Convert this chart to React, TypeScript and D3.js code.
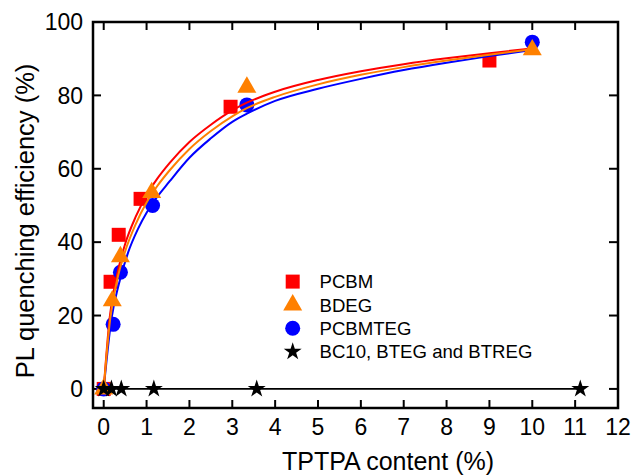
import React from "react";
import * as d3 from "d3";

// ---------- data ----------
const pcbmX = [0, 0.16, 0.35, 0.86, 2.96, 9.0];
const pcbmY = [0, 29.2, 42, 51.8, 76.9, 89.5];

const bdegX = [0, 0.2, 0.39, 1.12, 3.34, 10.0];
const bdegY = [0, 24, 36, 53.5, 82.2, 92.4];

const tegX = [0, 0.22, 0.39, 1.14, 3.34, 10.0];
const tegY = [0, 17.6, 31.8, 50, 77.4, 94.5];

const starX = [0, 0.18, 0.41, 1.17, 3.57, 11.12];
const starY = [0, 0, 0, 0, 0, 0];

// fitted curves
const fitRedX = [0, 0.14, 0.3, 0.5, 0.75, 1.0, 1.25, 1.54, 2.0, 2.5, 3.0, 3.34, 4.0, 5.0, 6.0, 7.0, 8.0, 9.0, 10.0];
const fitRedY = [0, 19.5, 30.5, 39.5, 47, 52.8, 57.3, 61.6, 67.3, 72, 75.9, 78, 81, 84.2, 86.6, 88.5, 90.1, 91.5, 92.8];

const fitOrangeX = [0, 0.15, 0.3, 0.5, 0.75, 1.0, 1.25, 1.54, 2.0, 2.5, 3.0, 3.34, 4.0, 5.0, 6.0, 7.0, 8.0, 9.0, 10.0];
const fitOrangeY = [0, 19, 29, 37.5, 45, 50.8, 55.3, 59.6, 65.4, 70.3, 74.3, 76.5, 79.6, 83.0, 85.6, 87.7, 89.5, 91.1, 92.6];

const fitBlueX = [0, 0.18, 0.34, 0.57, 0.8, 1.0, 1.14, 1.54, 2.0, 2.5, 3.0, 3.34, 4.0, 5.0, 6.0, 7.0, 8.0, 9.0, 10.0];
const fitBlueY = [0, 19, 28, 37.2, 43.6, 48, 50.6, 56.6, 63, 68.3, 72.8, 75, 78.5, 81.8, 84.5, 86.9, 88.9, 90.7, 92.4];

const xTicks = [0, 1, 2, 3, 4, 5, 6, 7, 8, 9, 10, 11, 12];
const yTicks = [0, 20, 40, 60, 80, 100];

const legendLabels = ["PCBM", "BDEG", "PCBMTEG", "BC10, BTEG and BTREG"];

const RED = "#ff0000";
const ORANGE = "#ff8000";
const BLUE = "#0000ff";
const FONT = "'Liberation Sans', Arial, sans-serif";

const W = 632;
const H = 475;
const L = 93, R = 618, T = 22, B = 408;

export default function App() {
  const x = d3.scaleLinear().domain([-0.25, 12]).range([L, R]);
  const y = d3.scaleLinear().domain([-5.2, 100]).range([B, T]);

  const zip = (xs: number[], ys: number[]) => xs.map((v, i) => [v, ys[i]] as [number, number]);
  const line = d3
    .line<[number, number]>()
    .x((d) => x(d[0]))
    .y((d) => y(d[1]))
    .curve(d3.curveMonotoneX);
  const straight = d3
    .line<[number, number]>()
    .x((d) => x(d[0]))
    .y((d) => y(d[1]));

  const sq = d3.symbol().type(d3.symbolSquare).size(196)()!;
  const tri = d3.symbol().type(d3.symbolTriangle).size(156)()!;
  const circ = d3.symbol().type(d3.symbolCircle).size(177)()!;
  const star = d3.symbol().type(d3.symbolStar).size(100)()!;

  const legendX = 292.7;
  const legendTextX = 319.5;
  const legendBase = [288.3, 311.7, 335, 358.3];
  const legendSymbols = [
    { d: sq, fill: RED, dy: -6.7 },
    { d: tri, fill: ORANGE, dy: -6.7 },
    { d: circ, fill: BLUE, dy: -6.7 },
    { d: star, fill: "#000", dy: -6.7 },
  ];

  return (
    <svg
      width={W}
      height={H}
      style={{ position: "absolute", left: 0, top: 0, background: "#fff" }}
      fontFamily={FONT}
    >
      <rect x={0} y={0} width={W} height={H} fill="#fff" />

      {/* ticks */}
      {xTicks.map((t) => (
        <g key={"xt" + t} stroke="#000" strokeWidth={2}>
          <line x1={x(t)} x2={x(t)} y1={B} y2={B - 8} />
          <line x1={x(t)} x2={x(t)} y1={T} y2={T + 8} />
        </g>
      ))}
      {yTicks.map((t) => (
        <g key={"yt" + t} stroke="#000" strokeWidth={2}>
          <line x1={L} x2={L + 8} y1={y(t)} y2={y(t)} />
          <line x1={R} x2={R - 9} y1={y(t)} y2={y(t)} />
        </g>
      ))}

      {/* tick labels */}
      {xTicks.map((t) => (
        <text key={"xl" + t} x={x(t)} y={435} fontSize={23} textAnchor="middle" fill="#000">
          {t}
        </text>
      ))}
      {yTicks.map((t) => (
        <text
          key={"yl" + t}
          x={83}
          y={y(t) + 8.3}
          fontSize={23}
          textAnchor="end"
          fill="#000"
        >
          {t}
        </text>
      ))}

      {/* axis titles */}
      <text x={388} y={470} fontSize={25} textAnchor="middle" fill="#000">
        TPTPA content (%)
      </text>
      <text
        transform={`translate(33.5,221) rotate(-90)`}
        fontSize={25.5}
        textAnchor="middle"
        fill="#000"
      >
        PL quenching efficiency (%)
      </text>

      {/* squares, circles */}
      {pcbmX.map((v, i) => (
        <path key={"s" + i} d={sq} transform={`translate(${x(v)},${y(pcbmY[i])})`} fill={RED} />
      ))}
      {tegX.map((v, i) => (
        <path key={"c" + i} d={circ} transform={`translate(${x(v)},${y(tegY[i])})`} fill={BLUE} />
      ))}

      {/* fit curves */}
      <path d={line(zip(fitBlueX, fitBlueY))!} fill="none" stroke={BLUE} strokeWidth={2} />
      <path d={line(zip(fitRedX, fitRedY))!} fill="none" stroke={RED} strokeWidth={2} />
      <path d={line(zip(fitOrangeX, fitOrangeY))!} fill="none" stroke={ORANGE} strokeWidth={2} />

      {/* triangles */}
      {bdegX.map((v, i) => (
        <path key={"t" + i} d={tri} transform={`translate(${x(v)},${y(bdegY[i])})`} fill={ORANGE} />
      ))}

      {/* stars with connecting line */}
      <path d={straight(zip(starX, starY))!} fill="none" stroke="#000" strokeWidth={1.6} />
      {starX.map((v, i) => (
        <path key={"st" + i} d={star} transform={`translate(${x(v)},${y(starY[i])})`} fill="#000" />
      ))}

      {/* frame */}
      <rect x={L} y={T} width={R - L} height={B - T} fill="none" stroke="#000" strokeWidth={2.5} />

      {/* legend */}
      {legendLabels.map((lab, i) => (
        <g key={"lg" + i}>
          <path
            d={legendSymbols[i].d}
            transform={`translate(${legendX},${legendBase[i] + legendSymbols[i].dy})`}
            fill={legendSymbols[i].fill}
          />
          <text x={legendTextX} y={legendBase[i]} fontSize={18.6} fill="#000">
            {lab}
          </text>
        </g>
      ))}
    </svg>
  );
}
